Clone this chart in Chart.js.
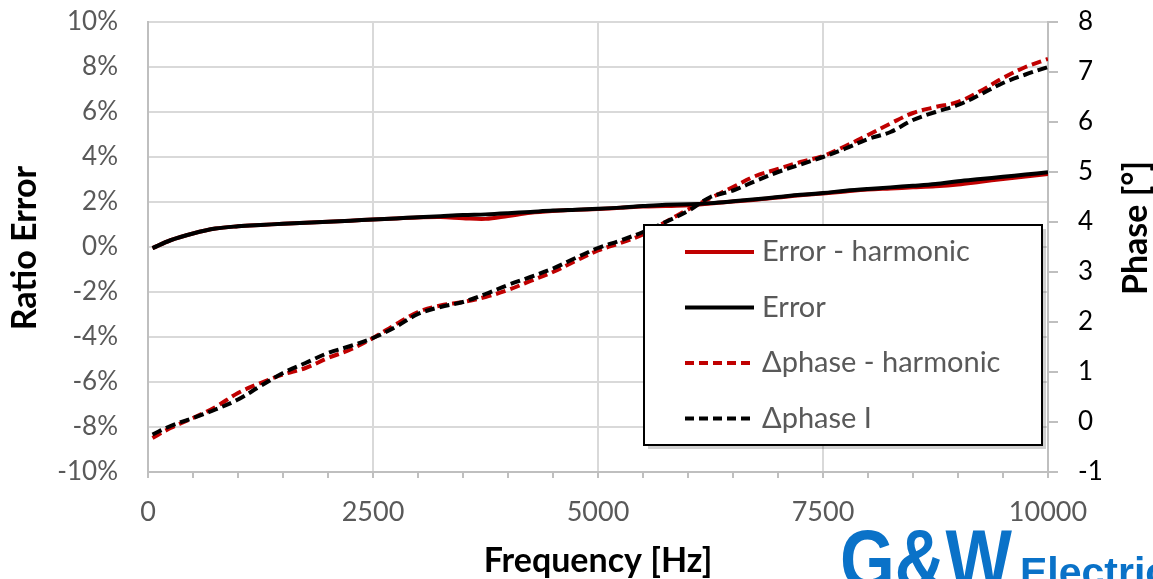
<!DOCTYPE html>
<html>
<head>
<meta charset="utf-8">
<script src="https://cdn.jsdelivr.net/npm/chart.js@4"></script>
<style>
  body { margin: 0; background: #fff; }
</style>
</head>
<body>
<canvas id="chart" width="1153" height="579"></canvas>
<script>
// frequency points (Hz)
const freq = [50, 250, 500, 750, 1000, 1250, 1500, 1750, 2000, 2250, 2500, 2750, 3000, 3250, 3500, 3750,
    4000, 4250, 4500, 4750, 5000, 5250, 5500, 5750, 6000, 6250, 6500, 6750, 7000, 7250, 7500, 7750,
    8000, 8250, 8500, 8750, 9000, 9250, 9500, 9750, 10000];

// ratio error (%)
const errorHarmonic = [-0.05, 0.3, 0.6, 0.82, 0.92, 0.98, 1.03, 1.08, 1.12, 1.17, 1.22, 1.27, 1.31, 1.33, 1.28, 1.25,
    1.38, 1.52, 1.6, 1.65, 1.69, 1.74, 1.8, 1.82, 1.85, 1.93, 2.02, 2.1, 2.2, 2.3, 2.38, 2.47,
    2.55, 2.6, 2.65, 2.7, 2.78, 2.9, 3.02, 3.13, 3.24];
const errorI = [-0.05, 0.3, 0.6, 0.82, 0.92, 0.98, 1.03, 1.08, 1.12, 1.17, 1.22, 1.27, 1.32, 1.37, 1.42, 1.45,
    1.5, 1.56, 1.62, 1.66, 1.7, 1.75, 1.82, 1.88, 1.9, 1.95, 2.03, 2.12, 2.22, 2.32, 2.4, 2.5,
    2.58, 2.65, 2.72, 2.8, 2.92, 3.02, 3.12, 3.22, 3.32];

// phase (degrees)
const phaseHarmonic = [-0.32, -0.12, 0.08, 0.3, 0.58, 0.78, 0.95, 1.08, 1.28, 1.45, 1.68, 1.95, 2.2, 2.33, 2.4, 2.5,
    2.64, 2.82, 3.0, 3.22, 3.43, 3.58, 3.75, 4.0, 4.25, 4.48, 4.7, 4.92, 5.06, 5.2, 5.32, 5.52,
    5.74, 5.97, 6.18, 6.3, 6.4, 6.62, 6.88, 7.1, 7.26];
const phaseI = [-0.25, -0.08, 0.08, 0.25, 0.45, 0.72, 0.98, 1.18, 1.38, 1.52, 1.68, 1.9, 2.16, 2.3, 2.4, 2.56,
    2.74, 2.9, 3.07, 3.28, 3.48, 3.63, 3.8, 4.0, 4.22, 4.5, 4.63, 4.82, 5.0, 5.15, 5.3, 5.47,
    5.66, 5.8, 6.04, 6.2, 6.34, 6.55, 6.78, 6.95, 7.1];

const labels = ['Error - harmonic', 'Error', '\u0394phase - harmonic', '\u0394phase I'];

const RED = '#c00000';
const GRID = '#d9d9d9';
const AXIS = '#bfbfbf';
const FONT = 'Lato, "Open Sans", sans-serif';

function pts(ys) {
    return freq.map((f, i) => ({ x: f, y: ys[i] }));
}

// keep the plot area fixed: no extra padding from tick labels
function fixBox(s, w, h) {
    if (w !== null) s.width = w;
    if (h !== null) s.height = h;
    s.paddingTop = 0;
    s.paddingBottom = 0;
    s.paddingLeft = 0;
    s.paddingRight = 0;
}

// legend box + axis titles + logo
const extras = {
    id: 'extras',
    afterDraw(chart) {
        const ctx = chart.ctx;
        ctx.save();

        // legend
        const bx = 644, by = 225, bw = 398, bh = 220;
        ctx.fillStyle = 'rgba(0,0,0,0.18)';
        ctx.fillRect(bx + 4, by + 4, bw, bh);
        ctx.fillStyle = '#fff';
        ctx.fillRect(bx, by, bw, bh);
        ctx.strokeStyle = '#000';
        ctx.lineWidth = 2;
        ctx.strokeRect(bx, by, bw, bh);
        chart.data.datasets.forEach((ds, i) => {
            const y = 252 + i * 55.5;
            ctx.beginPath();
            ctx.strokeStyle = ds.borderColor;
            ctx.lineWidth = 4;
            ctx.setLineDash(ds.borderDash ? [9, 5] : []);
            ctx.moveTo(685, y);
            ctx.lineTo(754, y);
            ctx.stroke();
            ctx.setLineDash([]);
            ctx.fillStyle = '#595959';
            ctx.font = '29px ' + FONT;
            ctx.textAlign = 'left';
            ctx.textBaseline = 'middle';
            ctx.fillText(ds.label, 762, y);
        });

        // axis titles
        ctx.fillStyle = '#000';
        ctx.font = 'bold 34px ' + FONT;
        ctx.textAlign = 'center';
        ctx.textBaseline = 'alphabetic';
        ctx.fillText('Frequency [Hz]', 598, 572);

        ctx.save();
        ctx.translate(36, 248);
        ctx.rotate(-Math.PI / 2);
        ctx.fillText('Ratio Error', 0, 0);
        ctx.restore();

        ctx.save();
        ctx.translate(1147, 228);
        ctx.rotate(-Math.PI / 2);
        ctx.fillText('Phase [\u00b0]', 0, 0);
        ctx.restore();

        // logo
        ctx.fillStyle = '#0a72c8';
        ctx.textAlign = 'left';
        ctx.textBaseline = 'alphabetic';
        ctx.font = 'bold 84px "Liberation Sans Narrow", "Liberation Sans", sans-serif';
        const gw = ctx.measureText('G&W').width;
        ctx.save();
        ctx.translate(840, 588);
        ctx.scale(172 / gw, 1);
        ctx.fillText('G&W', 0, 0);
        ctx.restore();
        ctx.font = 'bold 41px "Liberation Sans", sans-serif';
        ctx.fillText('Electric', 1020, 586);

        ctx.restore();
    }
};

new Chart(document.getElementById('chart'), {
    type: 'line',
    data: {
        datasets: [
            { label: labels[0], data: pts(errorHarmonic), yAxisID: 'y', borderColor: RED, borderWidth: 4, order: 2 },
            { label: labels[1], data: pts(errorI), yAxisID: 'y', borderColor: '#000', borderWidth: 4, order: 1 },
            { label: labels[2], data: pts(phaseHarmonic), yAxisID: 'y2', borderColor: RED, borderWidth: 4, borderDash: [10, 5], order: 2 },
            { label: labels[3], data: pts(phaseI), yAxisID: 'y2', borderColor: '#000', borderWidth: 4, borderDash: [10, 5], order: 1 }
        ]
    },
    options: {
        responsive: false,
        animation: false,
        layout: { padding: { top: 22 } },
        elements: {
            point: { radius: 0 },
            line: { tension: 0.35, fill: false }
        },
        plugins: {
            legend: { display: false },
            tooltip: { enabled: false }
        },
        scales: {
            x: {
                type: 'linear',
                min: 0,
                max: 10000,
                afterFit: s => fixBox(s, null, 107),
                border: { color: AXIS, width: 2 },
                grid: {
                    color: c => (c.tick && c.tick.value % 2500 === 0 && c.tick.value > 0 && c.tick.value < 10000) ? GRID : 'rgba(0,0,0,0)',
                    tickColor: AXIS,
                    tickLength: 6,
                    lineWidth: 2
                },
                ticks: {
                    stepSize: 500,
                    autoSkip: false,
                    maxRotation: 0,
                    padding: 18,
                    color: '#595959',
                    font: { family: FONT, size: 27 },
                    callback: v => (v % 2500 === 0 ? String(v) : '')
                }
            },
            y: {
                position: 'left',
                min: -10,
                max: 10,
                afterFit: s => fixBox(s, 148, null),
                border: { color: AXIS, width: 2 },
                grid: { color: GRID, lineWidth: 2, drawTicks: false },
                ticks: {
                    stepSize: 2,
                    padding: 30,
                    color: '#595959',
                    font: { family: FONT, size: 26 },
                    callback: v => v + '%'
                }
            },
            y2: {
                position: 'right',
                min: -1,
                max: 8,
                afterFit: s => fixBox(s, 105, null),
                border: { color: AXIS, width: 2 },
                grid: { drawOnChartArea: false, color: AXIS, tickLength: 10, lineWidth: 2 },
                ticks: {
                    stepSize: 1,
                    padding: 20,
                    color: '#000',
                    font: { family: FONT, size: 26 }
                }
            }
        }
    },
    plugins: [extras]
});
</script>
</body>
</html>
